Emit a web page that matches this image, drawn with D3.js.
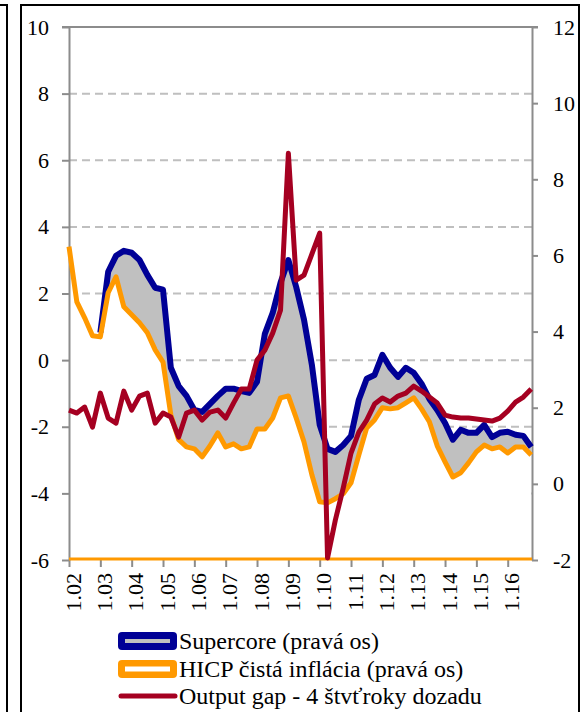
<!DOCTYPE html>
<html>
<head>
<meta charset="utf-8">
<script src="https://cdn.jsdelivr.net/npm/d3@7"></script>
<style>
  body { margin: 0; background: #fff; }
</style>
</head>
<body>
<svg id="chart" width="584" height="712"></svg>
<script>
// quarterly data, Q1 2002 .. Q4 2016 (60 points)
const tickLabels = ["1.02", "1.03", "1.04", "1.05", "1.06", "1.07", "1.08", "1.09",
                    "1.10", "1.11", "1.12", "1.13", "1.14", "1.15", "1.16"];

// right axis
const supercore = [
  null, null, null, null, 3.97, 5.57, 5.99, 6.12, 6.07, 5.88,
  5.49, 5.15, 5.10, 3.05, 2.57, 2.31, 1.94, 1.89, 2.10, 2.31,
  2.50, 2.50, 2.44, 2.39, 2.68, 3.94, 4.49, 5.28, 5.88, 5.17,
  4.31, 3.13, 1.55, 0.92, 0.84, 1.02, 1.26, 2.21, 2.76, 2.86,
  3.39, 3.05, 2.81, 3.05, 2.92, 2.63, 2.23, 1.94, 1.60, 1.16,
  1.42, 1.34, 1.34, 1.55, 1.23, 1.34, 1.37, 1.29, 1.26, 0.97
];

// right axis
const hicpCore = [
  6.23, 4.78, 4.36, 3.89, 3.86, 5.02, 5.44, 4.65, 4.44, 4.23,
  3.97, 3.52, 3.20, 1.81, 1.16, 0.97, 0.92, 0.71, 1.00, 1.34,
  0.97, 1.05, 0.92, 0.97, 1.44, 1.44, 1.73, 2.26, 2.31, 1.73,
  1.10, 0.24, -0.47, -0.50, -0.39, -0.26, 0.03, 0.76, 1.47, 1.68,
  2.00, 1.97, 2.00, 2.13, 2.26, 1.97, 1.63, 1.00, 0.58, 0.18,
  0.29, 0.55, 0.84, 1.02, 0.92, 0.97, 0.81, 0.97, 0.97, 0.76
];

// left axis
const outputGap = [
  -1.50, -1.59, -1.41, -2.01, -0.99, -1.74, -1.89, -0.93, -1.50, -1.08,
  -0.99, -1.89, -1.59, -1.71, -2.31, -1.59, -1.50, -1.80, -1.56, -1.50,
  -1.74, -1.29, -0.87, -0.87, 0.00, 0.30, 0.81, 1.50, 6.21, 2.40,
  2.55, 3.18, 3.81, -5.94, -4.80, -3.84, -2.79, -2.16, -1.80, -1.32,
  -1.14, -1.26, -1.08, -0.99, -0.78, -0.93, -1.11, -1.29, -1.65, -1.71,
  -1.74, -1.74, -1.77, -1.80, -1.83, -1.74, -1.53, -1.26, -1.11, -0.87
];

const leftTicks  = [10, 8, 6, 4, 2, 0, -2, -4, -6];
const rightTicks = [12, 10, 8, 6, 4, 2, 0, -2];

const legendItems = [
  "Supercore (pravá os)",
  "HICP čistá inflácia (pravá os)",
  "Output gap - 4 štvťroky dozadu"
];

const NAVY = "#000096", ORANGE = "#ff9900", RED = "#a50021", FILL = "#c0c0c0", AXIS = "#8c8c8c";
const FONT = "Liberation Serif";

const svg = d3.select("#chart");
const plot = { left: 69, right: 532, top: 27, bottom: 560 };
const idx = d3.range(hicpCore.length);

const x  = d3.scaleLinear().domain([0, 59.1]).range([plot.left, plot.right]);
const yL = d3.scaleLinear().domain([-6, 10]).range([plot.bottom, plot.top]);
const yR = d3.scaleLinear().domain([-2, 12]).range([plot.bottom, plot.top]);

// frames
svg.append("path").attr("d", "M0,5H7V712")
  .attr("fill", "none").attr("stroke", "#000").attr("stroke-width", 2);
svg.append("rect").attr("x", 21).attr("y", 5).attr("width", 558).attr("height", 730)
  .attr("fill", "none").attr("stroke", "#000").attr("stroke-width", 2);

// gridlines
svg.append("g").selectAll("line")
  .data(leftTicks.filter(v => v > -6 && v < 10))
  .join("line")
    .attr("x1", plot.left).attr("x2", plot.right)
    .attr("y1", d => yL(d)).attr("y2", d => yL(d))
    .attr("stroke", "#bfbfbf").attr("stroke-width", 2)
    .attr("stroke-dasharray", "8,5");

// top border
svg.append("line")
  .attr("x1", plot.left - 7).attr("x2", plot.right + 6)
  .attr("y1", plot.top).attr("y2", plot.top)
  .attr("stroke", AXIS).attr("stroke-width", 2);

// white base area under HICP (hides gridlines), gray band up to supercore
svg.append("path").datum(idx)
  .attr("fill", "#fff")
  .attr("d", d3.area().x(i => x(i)).y0(yR(-2)).y1(i => yR(hicpCore[i])));

svg.append("path").datum(idx)
  .attr("fill", FILL)
  .attr("d", d3.area()
    .defined(i => supercore[i] != null)
    .x(i => x(i))
    .y0(i => yR(hicpCore[i]))
    .y1(i => yR(supercore[i])));

// axes
const gl = svg.append("g").attr("transform", `translate(${plot.left},0)`)
  .call(d3.axisLeft(yL).tickValues(leftTicks).tickSize(7).tickSizeOuter(0)
    .tickPadding(13).tickFormat(d => String(d)));
const gr = svg.append("g").attr("transform", `translate(${plot.right},0)`)
  .call(d3.axisRight(yR).tickValues(rightTicks).tickSize(6).tickSizeOuter(0)
    .tickPadding(15).tickFormat(d => String(d)));
const gx = svg.append("g").attr("transform", `translate(0,${plot.bottom})`)
  .call(d3.axisBottom(x).tickValues(d3.range(0, 57, 4)).tickSize(7).tickSizeOuter(0)
    .tickFormat((d, i) => tickLabels[i]));

[gl, gr, gx].forEach(g => {
  g.attr("font-family", null).attr("font-size", null);
  g.selectAll("path.domain").attr("stroke", AXIS).attr("stroke-width", 2);
  g.selectAll(".tick line").attr("stroke", AXIS).attr("stroke-width", 2);
  g.selectAll("text").attr("fill", "#000").style("font-family", FONT).style("font-size", "22px");
});
gx.select("path.domain").remove();
gx.selectAll("text")
  .attr("transform", "rotate(-90)")
  .attr("text-anchor", "end")
  .attr("x", -13).attr("y", 0).attr("dy", "0.5em");

// orange base edge of the HICP area
svg.append("line")
  .attr("x1", plot.left).attr("x2", plot.right)
  .attr("y1", yR(-2) - 1).attr("y2", yR(-2) - 1)
  .attr("stroke", ORANGE).attr("stroke-width", 3);

// lines
const lineR = arr => d3.line().defined(i => arr[i] != null).x(i => x(i)).y(i => yR(arr[i]));

svg.append("path").datum(idx)
  .attr("fill", "none").attr("stroke", NAVY).attr("stroke-width", 6)
  .attr("stroke-linejoin", "round")
  .attr("d", lineR(supercore));

svg.append("path").datum(idx)
  .attr("fill", "none").attr("stroke", ORANGE).attr("stroke-width", 5)
  .attr("stroke-linejoin", "round")
  .attr("d", lineR(hicpCore));

svg.append("path").datum(idx)
  .attr("fill", "none").attr("stroke", RED).attr("stroke-width", 5)
  .attr("stroke-linejoin", "round")
  .attr("d", d3.line().x(i => x(i)).y(i => yL(outputGap[i])));

// legend
const lg = svg.append("g");
const rowY = [641, 669, 696];

lg.append("rect").attr("x", 118).attr("y", rowY[0] - 9).attr("width", 59).attr("height", 18)
  .attr("rx", 4).attr("fill", NAVY);
lg.append("line").attr("x1", 125).attr("x2", 170).attr("y1", rowY[0]).attr("y2", rowY[0])
  .attr("stroke", FILL).attr("stroke-width", 4);

lg.append("rect").attr("x", 118).attr("y", rowY[1] - 9).attr("width", 59).attr("height", 18)
  .attr("rx", 4).attr("fill", ORANGE);
lg.append("line").attr("x1", 125).attr("x2", 170).attr("y1", rowY[1]).attr("y2", rowY[1])
  .attr("stroke", "#fff").attr("stroke-width", 5);

lg.append("line").attr("x1", 121).attr("x2", 175).attr("y1", rowY[2]).attr("y2", rowY[2])
  .attr("stroke", RED).attr("stroke-width", 5).attr("stroke-linecap", "round");

lg.selectAll("text")
  .data(legendItems)
  .join("text")
    .attr("x", 179)
    .attr("y", (d, i) => rowY[i] + 8)
    .style("font-family", FONT)
    .style("font-size", "24px")
    .text(d => d);
</script>
</body>
</html>
